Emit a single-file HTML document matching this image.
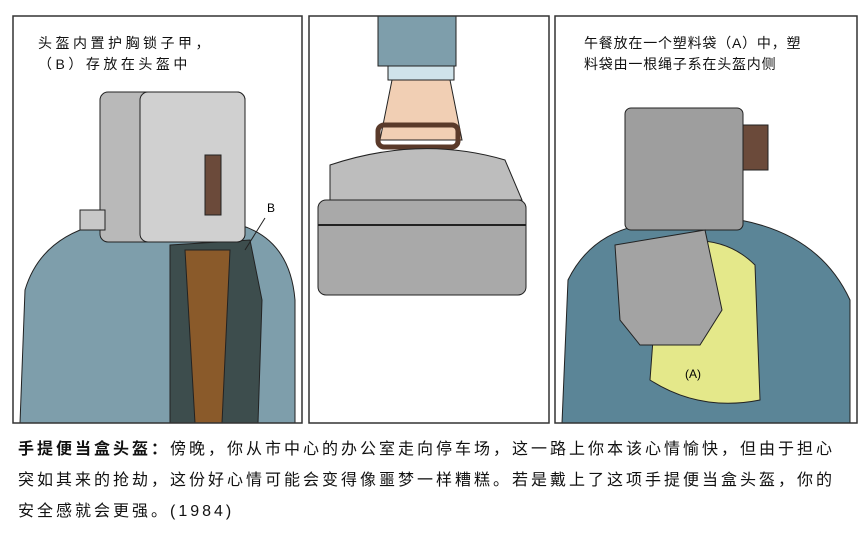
<!DOCTYPE html>
<html><head><meta charset="utf-8"><style>
body{margin:0;background:#fff;width:864px;height:558px;overflow:hidden;position:relative;font-family:"Liberation Sans","Noto Sans CJK SC",sans-serif}
.t{position:absolute;font-size:14px;color:#111;line-height:21px;white-space:nowrap}
.c{position:absolute;left:18px;top:434px;width:846px;font-size:16px;line-height:31px;color:#111;letter-spacing:3px;white-space:nowrap}
</style></head><body>
<svg width="864" height="558" style="position:absolute;left:0;top:0">
<rect x="13" y="16" width="289" height="407" fill="#fff"/>
<path d="M20 423 L25 290 Q40 240 95 225 L110 215 L240 225 Q290 240 295 300 L295 423 Z" fill="#7e9eab" stroke="#222"/>
<path d="M170 245 L250 240 L262 300 L258 423 L170 423 Z" fill="#3d4d4d" stroke="#222"/>
<path d="M185 250 L230 250 L222 423 L195 423 Z" fill="#8a5a2a" stroke="#222"/>
<rect x="100" y="92" width="145" height="150" rx="8" fill="#b9b9b9" stroke="#222"/>
<rect x="140" y="92" width="105" height="150" rx="8" fill="#d0d0d0" stroke="#222"/>
<rect x="205" y="155" width="16" height="60" fill="#6b4a3a" stroke="#222"/>
<rect x="80" y="210" width="25" height="20" fill="#c8c8c8" stroke="#222"/>
<text x="267" y="212" font-size="12" font-family="Liberation Sans">B</text>
<line x1="265" y1="218" x2="245" y2="250" stroke="#222"/>
<rect x="378" y="16" width="78" height="50" fill="#7e9eab" stroke="#222"/>
<rect x="388" y="66" width="66" height="14" fill="#cfe3ea" stroke="#222"/>
<path d="M392 80 L450 80 L462 140 L380 140 Z" fill="#f1cfb4" stroke="#222"/>
<rect x="378" y="125" width="80" height="22" rx="6" fill="none" stroke="#5a3a2a" stroke-width="5"/>
<path d="M330 165 Q420 135 505 160 L522 200 L330 205 Z" fill="#bdbdbd" stroke="#222"/>
<rect x="318" y="200" width="208" height="95" rx="8" fill="#a9a9a9" stroke="#222"/>
<line x1="318" y1="225" x2="526" y2="225" stroke="#222" stroke-width="2"/>
<path d="M562 423 L568 280 Q590 235 640 225 L740 220 Q820 235 850 300 L850 423 Z" fill="#5b8597" stroke="#222"/>
<path d="M660 245 Q720 230 755 265 L760 400 Q700 412 650 380 Z" fill="#e4e88a" stroke="#222"/>
<rect x="625" y="108" width="118" height="122" rx="6" fill="#9e9e9e" stroke="#222"/>
<rect x="743" y="125" width="25" height="45" fill="#6b4a3a" stroke="#222"/>
<path d="M615 245 L705 230 L722 310 L700 345 L640 345 L620 320 Z" fill="#a3a3a3" stroke="#222"/>
<text x="685" y="378" font-size="12" font-family="Liberation Sans">(A)</text>
<rect x="13" y="16" width="289" height="407" fill="none" stroke="#333" stroke-width="1.5"/>
<rect x="309" y="16" width="240" height="407" fill="none" stroke="#333" stroke-width="1.5"/>
<rect x="555" y="16" width="302" height="407" fill="none" stroke="#333" stroke-width="1.5"/>
</svg>
<div class="t" style="left:38px;top:33px;letter-spacing:3.5px">头盔内置护胸锁子甲，<br>（B）存放在头盔中</div>
<div class="t" style="left:584px;top:33px;letter-spacing:0.8px">午餐放在一个塑料袋（A）中，塑<br>料袋由一根绳子系在头盔内侧</div>
<div class="c"><b>手提便当盒头盔：</b>傍晚，你从市中心的办公室走向停车场，这一路上你本该心情愉快，但由于担心<br>突如其来的抢劫，这份好心情可能会变得像噩梦一样糟糕。若是戴上了这项手提便当盒头盔，你的<br>安全感就会更强。(1984)</div>
</body></html>
